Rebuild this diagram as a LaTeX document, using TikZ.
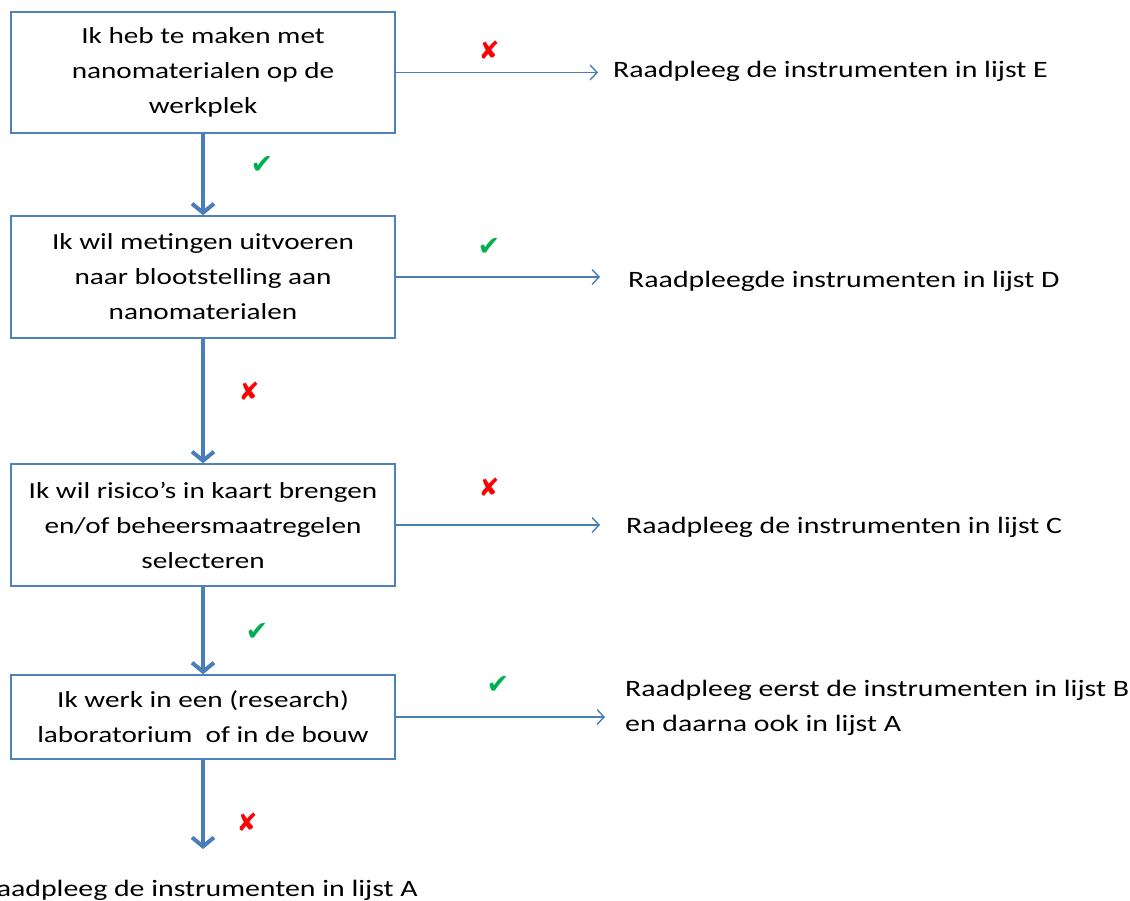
\documentclass[tikz,border=0pt]{standalone}
\usepackage{fontspec}
\setmainfont[FakeStretch=1.27]{Carlito}
\newfontfamily\symfont{DejaVu Sans}
\usetikzlibrary{arrows.meta}
\definecolor{boxblue}{HTML}{4F81BD}
\definecolor{arrblue}{HTML}{4A7EBB}
\definecolor{okgreen}{HTML}{00B050}
\definecolor{nored}{HTML}{FF0000}
\tikzset{
  flowbox/.style={draw=boxblue, line width=1.5pt, minimum width=384pt, align=center, inner sep=0pt,
    font=\fontsize{23}{35}\selectfont},
  down/.style={draw=arrblue, line width=4pt, -{Straight Barb[length=9pt, width=22pt, line width=4pt]}},
  side/.style={draw=arrblue, line width=1.4pt, -{Straight Barb[length=7pt, width=15pt, line width=1.4pt]}},
  outtext/.style={anchor=base west, inner sep=0pt, align=left, font=\fontsize{23.5}{35}\selectfont},
  yes/.style={text=okgreen, inner sep=0pt, font=\symfont\fontsize{27}{27}\selectfont},
  no/.style={text=nored, inner sep=0pt, font=\symfont\fontsize{25}{25}\selectfont},
}
\begin{document}
\begin{tikzpicture}[x=1pt, y=-1pt]
\clip (0,0) rectangle (1130,901);
\useasboundingbox (0,0) rectangle (1130,901);

\node[flowbox, minimum height=121pt] (b1) at (203,72.5) {Ik heb te maken met\\nanomaterialen op de\\werkplek};
\node[flowbox, minimum height=122pt] (b2) at (203,277) {Ik wil metingen uitvoeren\\naar blootstelling aan\\nanomaterialen};
\node[flowbox, minimum height=122pt] (b3) at (203,525) {Ik wil risico’s in kaart brengen\\en/of beheersmaatregelen\\selecteren};
\node[flowbox, minimum height=84pt] (b4) at (203,717) {Ik werk in een (research)\\laboratorium\ \ of in de bouw};

\node[outtext] (tE) at (613,78) {Raadpleeg de instrumenten in lijst E};
\node[outtext] (tD) at (628,288) {Raadpleegde instrumenten in lijst D};
\node[outtext] (tC) at (626,533) {Raadpleeg de instrumenten in lijst C};
\node[outtext] (tB) at (625,731) {Raadpleeg eerst de instrumenten in lijst B\\en daarna ook in lijst A};
\node[anchor=base east, inner sep=0pt, font=\fontsize{23.5}{35}\selectfont] (tA) at (418,896) {Raadpleeg de instrumenten in lijst A};

\coordinate (eE) at (598,72.5);
\coordinate (eD) at (600,277);
\coordinate (eC) at (600,525);
\coordinate (eB) at (605,717);
\coordinate (eA) at (203,849);

\draw[down] (b1.south) -- (b2.north);
\draw[down] (b2.south) -- (b3.north);
\draw[down] (b3.south) -- (b4.north);
\draw[down] (b4.south) -- (eA);

\draw[side] (b1.east) -- (eE);
\draw[side] (b2.east) -- (eD);
\draw[side] (b3.east) -- (eC);
\draw[side] (b4.east) -- (eB);

\node[no]  (x1) at (489,50)  {✘};
\node[yes] (c1) at (262,165) {✔};
\node[yes] (c2) at (489,247) {✔};
\node[no]  (x2) at (249,391) {✘};
\node[no]  (x3) at (489,487) {✘};
\node[yes] (c3) at (257,632) {✔};
\node[yes] (c4) at (498,685) {✔};
\node[no]  (x4) at (247,822) {✘};
\end{tikzpicture}
\end{document}
